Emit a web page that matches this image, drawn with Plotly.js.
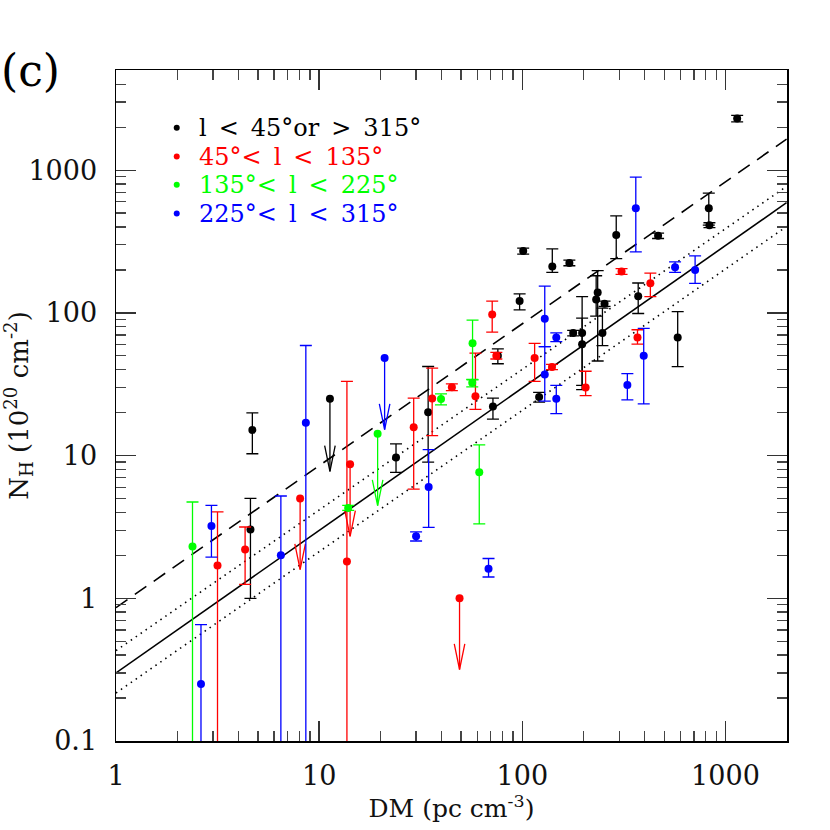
<!DOCTYPE html>
<html><head><meta charset="utf-8">
<script src="https://cdn.plot.ly/plotly-3.0.1.min.js"></script>
<style>html,body{margin:0;padding:0;background:#fff}</style>
</head><body><div id="chart" style="width:830px;height:830px"></div>
<script>
// ---------- data ----------
// l < 45 or > 315 (black)
const blackX  = [4.69, 4.59, 23.9, 34.4, 71.7, 75.8, 97, 101, 121, 140.5, 170.5, 178, 197, 197, 235, 231, 254, 248, 290, 372, 466, 582, 828, 834, 1142];
const blackY  = [15.1, 3.03, 9.71, 20.1, 22.1, 50.1, 121, 271, 25.7, 211, 224, 72.2, 72.2, 60.4, 139, 124, 116, 72.2, 352, 131, 347, 67.3, 542, 412, 2298];
const blackLo = [10.3, 1.0, 7.63, 9.0, 18.0, 44, 105, 258, 23.7, 192, 214, 69, 31, 29, 46, 95, 111, 59, 240, 99, 332, 42, 412, 396, 2180];
const blackHi = [19.9, 5.01, 12.1, 42.1, 25.3, 56, 136, 284, 27.7, 281, 234, 75.5, 92, 130, 198, 182, 121, 108, 479, 162, 362, 102, 690, 428, 2420];
const blackLimX = [11.3], blackLimY = [25.0], blackLimTo = [7.75];

// 45 < l < 135 (red)
const redX  = [3.16, 4.32, 13.7, 29.2, 36, 45, 58.8, 71.1, 74.5, 115, 140, 205, 308, 369, 427];
const redY  = [1.70, 2.20, 1.81, 15.8, 25.1, 30.1, 26.1, 97.5, 50.1, 48.2, 41.8, 30, 195, 67.3, 161];
const redLo = [0.03, 1.25, 0.03, 5.83, 13.8, 28.5, 21.1, 73.4, 47.5, 33.1, 40, 26.3, 186, 60.4, 130];
const redHi = [4.03, 3.16, 33.1, 25.3, 41, 31.8, 52.3, 121, 52.8, 61.2, 43.6, 39, 204, 76.2, 190];
const redLimX = [8.06, 14.2, 49.1], redLimY = [5.01, 8.68, 1.0], redLimTo = [1.59, 2.72, 0.317];

// 135 < l < 225 (green)
const greenX  = [2.38, 13.9, 39.8, 56.9, 56.7, 61.4];
const greenY  = [2.31, 4.3, 24.9, 61.2, 32.4, 7.63];
const greenLo = [0.03, 4.13, 22.7, 34, 30.3, 3.32];
const greenHi = [4.73, 4.48, 27.1, 89, 34.2, 11.9];
const greenLimX = [19.4], greenLimY = [14.2], greenLimTo = [4.46];

// 225 < l < 315 (blue)
const blueX  = [2.62, 2.95, 6.48, 8.6, 30.0, 34.6, 68.2, 129, 129, 147, 147, 329, 362, 396, 565, 709];
const blueY  = [0.251, 3.21, 2.0, 17.0, 2.72, 6.03, 1.61, 91, 37, 67.3, 25, 31.2, 542, 50.1, 209, 200];
const blueLo = [0.03, 1.94, 0.03, 0.03, 2.52, 3.14, 1.41, 58, 24.1, 62.8, 19.7, 24.6, 268, 23, 192, 161];
const blueHi = [0.654, 4.48, 5.21, 59.1, 2.92, 11.0, 1.90, 154, 58, 72.4, 31, 37.5, 893, 77.8, 228, 251];
const blueLimX = [21.0], blueLimY = [48.2], blueLimTo = [15.2];

// fitted relations (end points)
const lineX     = [1, 2000];
const solidY    = [0.30, 592];
const dashedY   = [0.86, 1650];
const dotHighY  = [0.43, 770];
const dotLowY   = [0.217, 403];

const legendLabels = ['l\u2002&lt;\u200245°or\u2002&gt;\u2002315°', '45°&lt;\u2002l\u2002&lt;\u2002135°', '135°&lt;\u2002l\u2002&lt;\u2002225°', '225°&lt;\u2002l\u2002&lt;\u2002315°'];
const legendColors = ['#000000', '#ff0000', '#00ff00', '#0000ff'];

const xTickVals = [1, 10, 100, 1000];
const xTickText = ['1', '10', '100', '1000'];
const yTickVals = [0.1, 1, 10, 100, 1000];
const yTickText = ['0.1', '1', '10', '100', '1000'];

// ---------- build ----------
const FONT = 'DejaVu Serif';
const traces = [];
function lineTrace(y, dash, width) {
  return {x: lineX, y: y, mode: 'lines', line: {color: 'black', width: width, dash: dash},
          showlegend: false, hoverinfo: 'skip'};
}
traces.push(lineTrace(dotHighY, '1.5px,4.5px', 1.6));
traces.push(lineTrace(dotLowY, '1.5px,4.5px', 1.6));
traces.push(lineTrace(dashedY, '14px,9px', 1.6));
traces.push(lineTrace(solidY, 'solid', 1.6));

function group(color, xs, ys, lo, hi, limX, limY, limTo) {
  traces.push({
    x: xs, y: ys, mode: 'markers', marker: {color: color, size: 8},
    error_y: {type: 'data', symmetric: false,
      array: hi.map((h, i) => h - ys[i]),
      arrayminus: lo.map((l, i) => ys[i] - l),
      color: color, thickness: 1.3, width: 6},
    showlegend: false
  });
  const hx = Math.pow(10, 0.026), hy = Math.pow(10, 0.18);
  const ax = [], ay = [];
  limX.forEach((x, i) => {
    const t = limTo[i];
    ax.push(x, x, null, x / hx, x, x * hx, null);
    ay.push(limY[i], t, null, t * hy, t, t * hy, null);
  });
  traces.push({x: ax, y: ay, mode: 'lines', line: {color: color, width: 1.3}, showlegend: false, hoverinfo: 'skip'});
  traces.push({x: limX, y: limY, mode: 'markers', marker: {color: color, size: 8}, showlegend: false});
}
group('#000000', blackX, blackY, blackLo, blackHi, blackLimX, blackLimY, blackLimTo);
group('#ff0000', redX, redY, redLo, redHi, redLimX, redLimY, redLimTo);
group('#00ff00', greenX, greenY, greenLo, greenHi, greenLimX, greenLimY, greenLimTo);
group('#0000ff', blueX, blueY, blueLo, blueHi, blueLimX, blueLimY, blueLimTo);

const legendRowsY = [0.914, 0.871, 0.829, 0.786];
const annotations = legendLabels.map((t, i) => ({
  xref: 'paper', yref: 'paper', x: 0.1207, y: legendRowsY[i], xanchor: 'left', yanchor: 'middle',
  text: t, showarrow: false, font: {family: FONT, size: 24, color: legendColors[i]}
}));
annotations.push({xref: 'paper', yref: 'paper', x: -0.174, y: 1.0, xanchor: 'left', yanchor: 'middle',
  text: '(c)', showarrow: false, font: {family: FONT, size: 44, color: '#000'}});
const shapes = legendColors.map((c, i) => ({
  type: 'circle', xref: 'paper', yref: 'paper', xsizemode: 'pixel', ysizemode: 'pixel',
  xanchor: 0.0905, yanchor: legendRowsY[i], x0: -3, x1: 3, y0: -3, y1: 3,
  fillcolor: c, line: {width: 0}
}));

function axis(extra) {
  return Object.assign({
    type: 'log', ticks: 'inside', ticklen: 20, tickwidth: 1.3, tickcolor: '#333',
    minor: {ticks: 'inside', ticklen: 10, tickwidth: 1.3, tickcolor: '#444', dtick: 'D1'},
    showline: true, linecolor: '#000', linewidth: 1.5, mirror: 'ticks',
    showgrid: false, zeroline: false, tickmode: 'array',
    tickfont: {family: FONT, size: 27, color: '#111'}
  }, extra);
}

const layout = {
  width: 830, height: 830,
  margin: {l: 116, r: 43, t: 70, b: 89},
  paper_bgcolor: '#fff', plot_bgcolor: '#fff',
  showlegend: false,
  xaxis: axis({range: [0, 3.303], tickvals: xTickVals, ticktext: xTickText, ticklabelstandoff: 10,
    title: {text: 'DM (pc cm<sup>-3</sup>)', font: {family: FONT, size: 25, color: '#111'}, standoff: 0}}),
  yaxis: axis({range: [-1, 3.702], tickvals: yTickVals, ticktext: yTickText, ticklabelstandoff: 12,
    title: {text: 'N<sub>H</sub> (10<sup>20</sup> cm<sup>-2</sup>)', font: {family: FONT, size: 26, color: '#111'}, standoff: 6}}),
  annotations: annotations,
  shapes: shapes
};
Plotly.newPlot('chart', traces, layout, {displayModeBar: false, staticPlot: true});
</script></body></html>
